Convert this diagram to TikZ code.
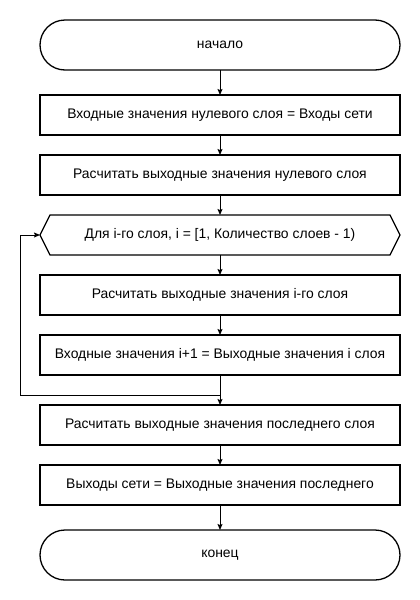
\documentclass[tikz,border=0pt]{standalone}
\usepackage{fontspec}
\setmainfont{Liberation Sans}
\usetikzlibrary{arrows.meta, positioning}

\begin{document}
\begin{tikzpicture}[
    x=1pt, y=-1pt,
    every node/.style={font=\fontsize{13.9}{16}\selectfont, outer sep=0pt},
    terminal/.style={draw, rectangle, rounded corners=25pt, line width=1.3pt, minimum width=360pt, minimum height=50pt, inner sep=0pt},
    process/.style={draw, rectangle, line width=1.3pt, minimum width=360pt, minimum height=40pt, inner sep=0pt},
    looplimit/.style={rectangle, minimum width=360pt, minimum height=40pt, inner sep=0pt},
    arrow/.style={-{Stealth[length=6pt, width=5pt, inset=1pt]}, line width=1pt}
]
\useasboundingbox (0,0) rectangle (420,600);

% Main column
\node[terminal] (start) at (220,45) {начало};
\node[process, below=25pt of start] (inzero) {Входные значения нулевого слоя = Входы сети};
\node[process, below=20pt of inzero] (calczero) {Расчитать выходные значения нулевого слоя};
\node[looplimit, below=20pt of calczero] (loop) {Для i-го слоя, i = [1, Количество слоев - 1)};
\node[process, below=20pt of loop] (calci) {Расчитать выходные значения i-го слоя};
\node[process, below=20pt of calci] (pass) {Входные значения i+1 = Выходные значения i слоя};
\node[process, below=30pt of pass] (calclast) {Расчитать выходные значения последнего слоя};
\node[process, below=20pt of calclast] (output) {Выходы сети = Выходные значения последнего};
\node[terminal, below=25pt of output] (stop) {конец};

% Loop hexagon outline
\draw[line width=1.3pt] (loop.west) -- ([xshift=10pt]loop.north west) -- ([xshift=-10pt]loop.north east)
    -- (loop.east) -- ([xshift=-10pt]loop.south east) -- ([xshift=10pt]loop.south west) -- cycle;

% Connectors
\draw[arrow] (start) -- (inzero);
\draw[arrow] (inzero) -- (calczero);
\draw[arrow] (calczero) -- (loop);
\draw[arrow] (loop) -- (calci);
\draw[arrow] (calci) -- (pass);
\draw[arrow] (pass) -- (calclast);
\draw[arrow] (calclast) -- (output);
\draw[arrow] (output) -- (stop);

% Back edge of the loop
\coordinate (loopback) at (20,395);
\draw[arrow] (pass.south) |- (loopback) |- (loop.west);

\end{tikzpicture}
\end{document}
